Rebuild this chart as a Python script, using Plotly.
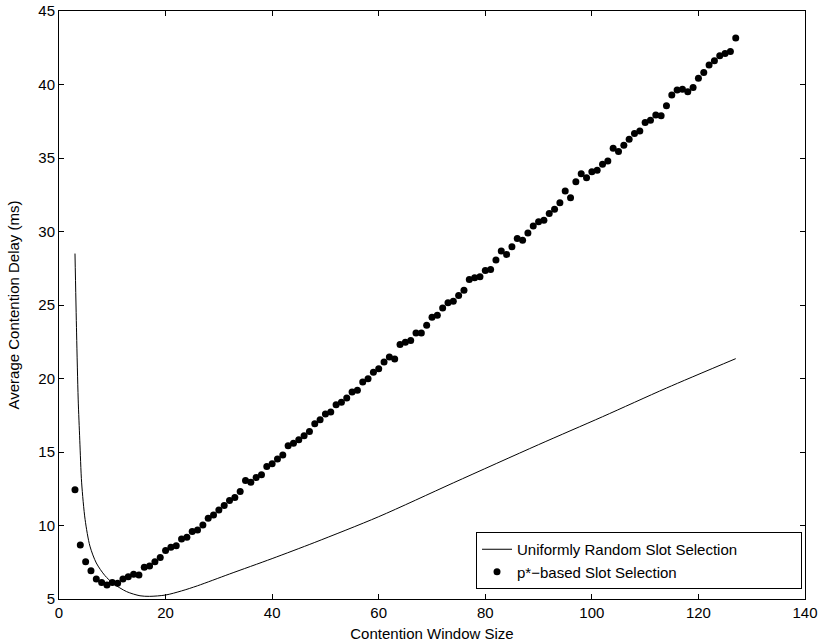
import plotly.graph_objects as go

# Uniformly random slot selection (analytical curve)
uniform_x = [3, 3.3, 3.6, 3.9, 4.25, 4.9, 5.8, 7, 8.6, 10.2, 12.7, 15.2, 17, 20, 23, 26, 32, 40, 48, 60, 74, 90, 102, 114, 127]
uniform_y = [28.5, 23.1, 18.6, 15.8, 12.9, 10.4, 8.6, 7.45, 6.6, 6.05, 5.5, 5.22, 5.18, 5.27, 5.55, 5.9, 6.7, 7.75, 8.85, 10.6, 12.9, 15.5, 17.4, 19.35, 21.35]

# p*-based slot selection (simulation points, window sizes 3..127)
pstar_x = list(range(3, 128))
pstar_y = [
    12.43, 8.68, 7.54, 6.93, 6.36, 6.13, 5.95, 6.13, 6.07, 6.36,
    6.52, 6.68, 6.64, 7.16, 7.25, 7.54, 7.82, 8.30, 8.52, 8.63,
    9.09, 9.20, 9.59, 9.70, 10.04, 10.50, 10.72, 11.06, 11.36, 11.70,
    11.90, 12.31, 13.06, 12.95, 13.27, 13.45, 14.02, 14.20, 14.52, 14.80,
    15.43, 15.60, 15.83, 16.10, 16.40, 16.92, 17.20, 17.58, 17.72, 18.22,
    18.38, 18.67, 19.08, 19.20, 19.77, 19.99, 20.42, 20.67, 21.13, 21.47,
    21.33, 22.31, 22.47, 22.58, 23.10, 23.10, 23.62, 24.17, 24.30, 24.80,
    25.15, 25.26, 25.65, 26.00, 26.74, 26.85, 26.92, 27.35, 27.42, 28.06,
    28.67, 28.44, 28.97, 29.53, 29.40, 29.90, 30.37, 30.67, 30.76, 31.22,
    31.51, 31.96, 32.76, 32.30, 33.39, 33.93, 33.66, 34.07, 34.16, 34.57,
    34.80, 35.66, 35.44, 35.87, 36.28, 36.66, 36.84, 37.41, 37.57, 37.93,
    37.87, 38.55, 39.28, 39.62, 39.68, 39.50, 39.80, 40.43, 40.82, 41.32,
    41.61, 41.95, 42.11, 42.25, 43.16,
]

x_ticks = [0, 20, 40, 60, 80, 100, 120, 140]
y_ticks = [5, 10, 15, 20, 25, 30, 35, 40, 45]

FONT = "Liberation Sans, Arial, Helvetica, sans-serif"
NB = "\u00a0"

fig = go.Figure()
fig.add_trace(go.Scatter(
    x=uniform_x, y=uniform_y, mode="lines", line_shape="spline",
    line=dict(color="black", width=1, smoothing=0.8),
    name="Uniformly Random Slot Selection" + NB * 14,
))
fig.add_trace(go.Scatter(
    x=pstar_x, y=pstar_y, mode="markers",
    marker=dict(color="black", size=7),
    name="p*\u2212based Slot Selection",
))

axis_common = dict(
    showline=True, linecolor="black", linewidth=1, mirror="allticks",
    ticks="inside", ticklen=5, tickcolor="black", tickwidth=1,
    showgrid=False, zeroline=False, automargin=False,
    tickfont=dict(family=FONT, size=15, color="black"),
)

fig.update_layout(
    width=819, height=642,
    margin=dict(l=59, r=14, t=11, b=43),
    paper_bgcolor="white", plot_bgcolor="white",
    font=dict(family=FONT, size=15, color="black"),
    xaxis=dict(range=[0, 140], tickvals=x_ticks,
               title=dict(text="Contention Window Size", font=dict(size=15)),
               **axis_common),
    yaxis=dict(range=[5, 45], tickvals=y_ticks,
               title=dict(text="Average Contention Delay (ms)", font=dict(size=15)),
               **axis_common),
    legend=dict(
        x=0.996, y=0.017, xanchor="right", yanchor="bottom",
        bordercolor="black", borderwidth=1, bgcolor="white",
        font=dict(family=FONT, size=15, color="black"),
        tracegroupgap=0, itemwidth=30,
    ),
    showlegend=True,
)

fig.write_html(
    "out.html",
    config={"displayModeBar": False},
    post_script="document.body.style.margin='0';document.body.style.padding='0';"
                "document.documentElement.style.margin='0';",
)
